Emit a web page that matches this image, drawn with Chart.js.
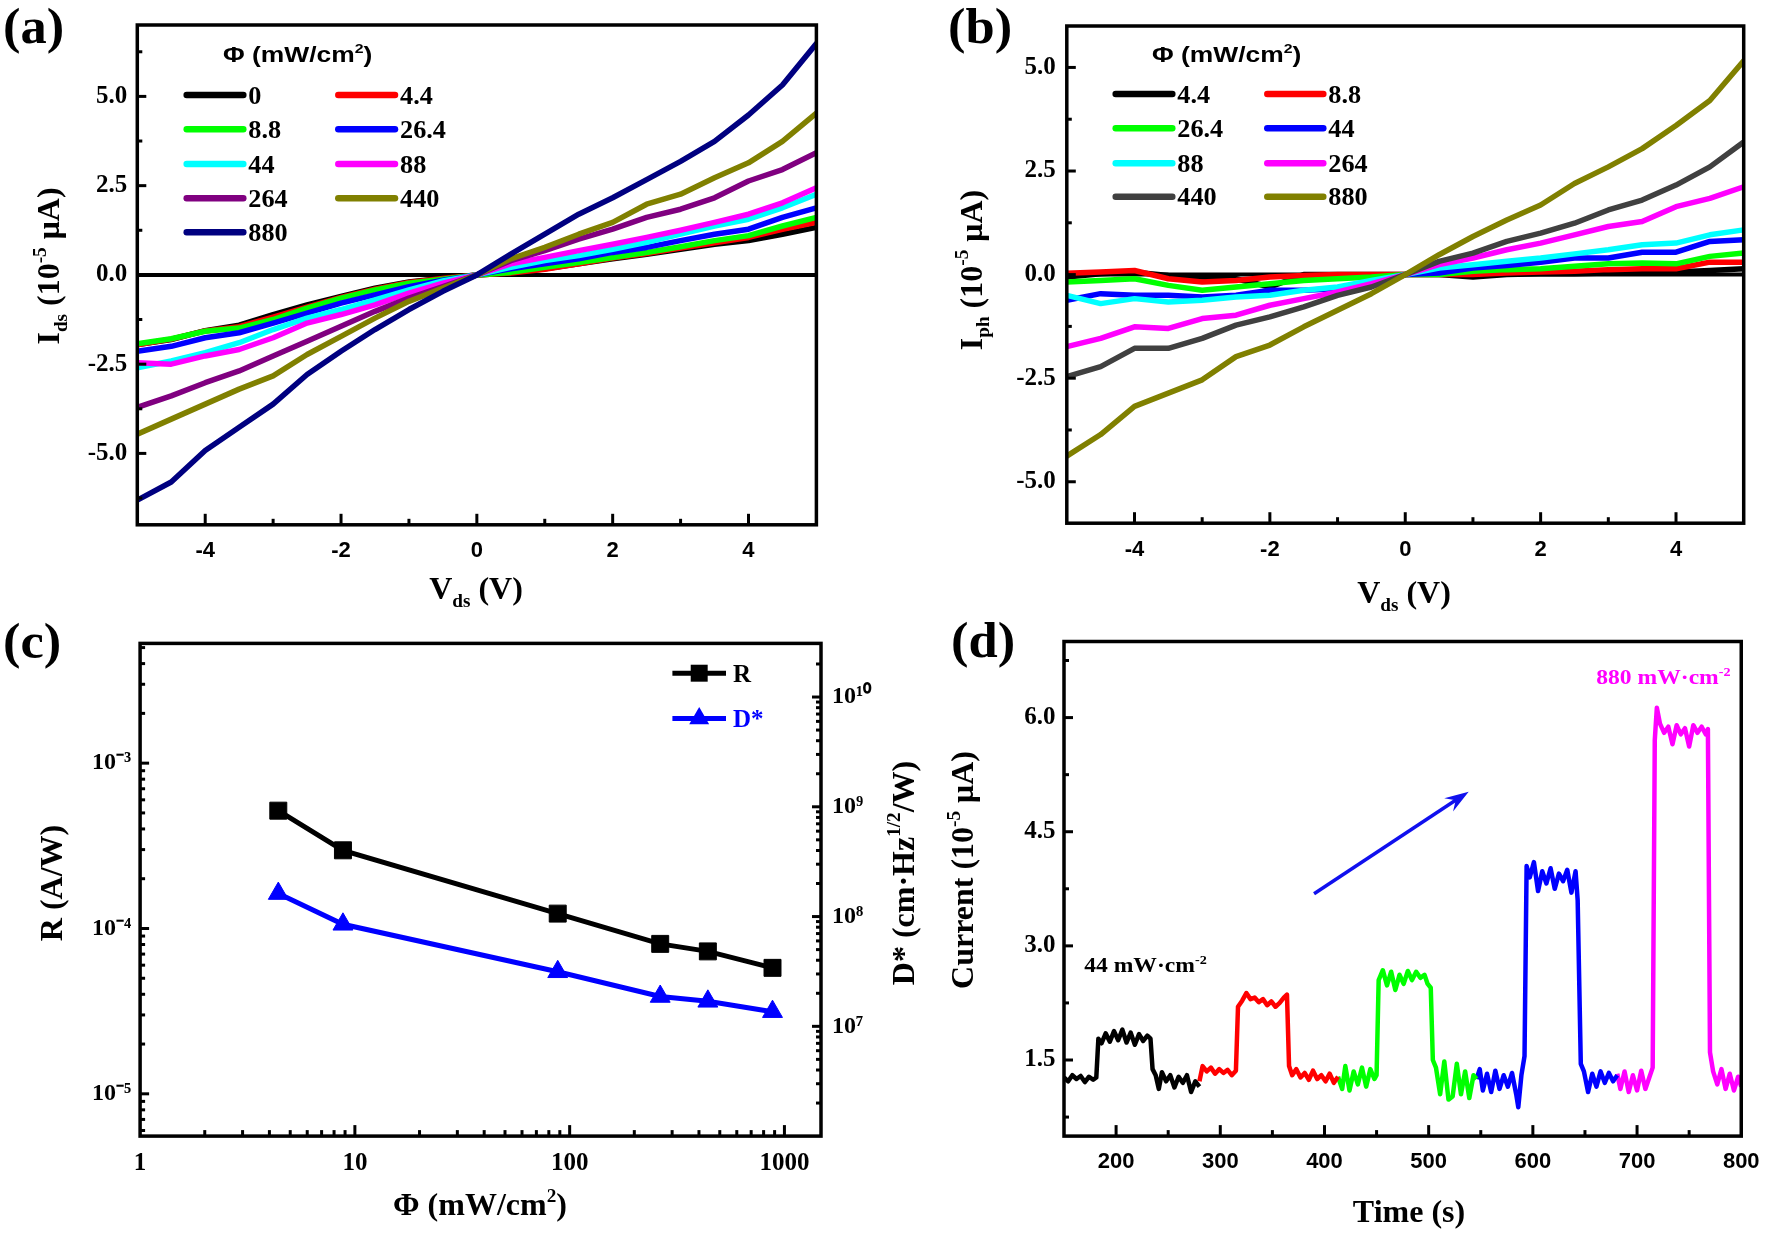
<!DOCTYPE html>
<html><head><meta charset="utf-8">
<script src="https://cdn.jsdelivr.net/npm/chart.js@4.4.1/dist/chart.umd.min.js"></script>
<style>
html,body{margin:0;padding:0;background:#fff;}
#wrap{position:relative;width:1772px;height:1236px;overflow:hidden;background:#fff;}
canvas{position:absolute;}
</style></head><body>
<div id="wrap">
<canvas id="ca" width="886" height="618" style="left:0;top:0"></canvas>
<canvas id="cb" width="886" height="618" style="left:886px;top:0"></canvas>
<canvas id="cc" width="940" height="618" style="left:0;top:618px"></canvas>
<canvas id="cd" width="886" height="618" style="left:886px;top:618px"></canvas>
</div>
<script>
// ---------------- DATA ----------------
// (a) I-V curves, Ids (10^-5 uA) vs Vds (V)
const vds = [-5,-4.5,-4,-3.5,-3,-2.5,-2,-1.5,-1,-0.5,0,0.5,1,1.5,2,2.5,3,3.5,4,4.5,5];
const phiA = ['0','4.4','8.8','26.4','44','88','264','440','880'];
const idsA_0    = [-1.95,-1.81,-1.56,-1.41,-1.11,-0.84,-0.60,-0.37,-0.20,-0.09,0,0.05,0.17,0.31,0.45,0.58,0.72,0.86,0.96,1.14,1.33];
const idsA_4_4  = [-1.96,-1.80,-1.57,-1.45,-1.18,-0.90,-0.63,-0.40,-0.21,-0.10,0,0.05,0.16,0.31,0.47,0.60,0.75,0.90,1.05,1.28,1.47];
const idsA_8_8  = [-1.93,-1.79,-1.58,-1.49,-1.25,-0.93,-0.65,-0.42,-0.23,-0.12,0,0.07,0.21,0.35,0.49,0.63,0.79,0.96,1.10,1.37,1.61];
const idsA_26_4 = [-2.14,-2.00,-1.76,-1.62,-1.35,-1.07,-0.79,-0.56,-0.33,-0.15,0,0.17,0.31,0.45,0.63,0.77,0.96,1.14,1.28,1.61,1.88];
const idsA_44   = [-2.60,-2.41,-2.18,-1.90,-1.53,-1.21,-0.97,-0.70,-0.42,-0.17,0,0.21,0.40,0.54,0.72,0.91,1.14,1.37,1.56,1.88,2.26];
const idsA_88   = [-2.46,-2.50,-2.27,-2.09,-1.76,-1.35,-1.11,-0.84,-0.51,-0.23,0,0.31,0.49,0.68,0.86,1.05,1.25,1.47,1.70,2.02,2.44];
const idsA_264  = [-3.71,-3.39,-3.02,-2.69,-2.27,-1.86,-1.44,-1.02,-0.65,-0.33,0,0.40,0.68,1.00,1.28,1.61,1.84,2.16,2.63,2.95,3.42];
const idsA_440  = [-4.46,-4.04,-3.62,-3.20,-2.83,-2.23,-1.72,-1.21,-0.74,-0.37,0,0.45,0.77,1.14,1.47,1.98,2.26,2.72,3.14,3.74,4.53];
const idsA_880  = [-6.31,-5.80,-4.92,-4.27,-3.62,-2.79,-2.14,-1.53,-0.97,-0.46,0,0.58,1.14,1.70,2.16,2.67,3.18,3.74,4.48,5.32,6.48];

// (b) photocurrent Iph (10^-5 uA) vs Vds (V)
const phiB = ['4.4','8.8','26.4','44','88','264','440','880'];
const iphB_4_4  = [-0.06,0.02,0.06,-0.02,-0.06,-0.10,-0.30,0,0,0,0,0,-0.06,0,0.02,0.02,0.04,0.06,0.06,0.10,0.14];
const iphB_8_8  = [0.03,0.06,0.10,-0.10,-0.18,-0.14,-0.06,-0.02,0,0,0,0,0,0.04,0.06,0.08,0.12,0.14,0.14,0.30,0.30];
const iphB_26_4 = [-0.18,-0.14,-0.10,-0.26,-0.38,-0.30,-0.22,-0.14,-0.10,-0.06,0,0,0.08,0.12,0.14,0.20,0.26,0.28,0.26,0.44,0.52];
const iphB_44   = [-0.62,-0.46,-0.50,-0.50,-0.54,-0.50,-0.38,-0.38,-0.34,-0.18,0,0.04,0.16,0.22,0.30,0.40,0.40,0.54,0.54,0.80,0.84];
const iphB_88   = [-0.50,-0.70,-0.58,-0.66,-0.62,-0.54,-0.50,-0.38,-0.30,-0.14,0,0.16,0.24,0.32,0.40,0.50,0.60,0.72,0.76,0.96,1.08];
const iphB_264  = [-1.74,-1.54,-1.26,-1.30,-1.06,-0.98,-0.74,-0.58,-0.42,-0.22,0,0.24,0.40,0.60,0.76,0.96,1.16,1.28,1.64,1.84,2.12];
const iphB_440  = [-2.46,-2.22,-1.78,-1.78,-1.54,-1.22,-1.02,-0.78,-0.50,-0.30,0,0.32,0.52,0.80,1.00,1.24,1.56,1.80,2.16,2.60,3.20];
const iphB_880  = [-4.38,-3.86,-3.18,-2.86,-2.54,-1.98,-1.70,-1.26,-0.86,-0.46,0,0.48,0.92,1.32,1.68,2.20,2.60,3.04,3.60,4.20,5.16];

// (c) responsivity R (A/W) and detectivity D* vs light intensity
const phiC  = [4.4, 8.8, 88, 264, 440, 880];
const respR = [5.16e-4, 2.97e-4, 1.23e-4, 8.07e-5, 7.27e-5, 5.78e-5];
const detD  = [1.62e8, 8.5e7, 3.14e7, 1.87e7, 1.69e7, 1.36e7];

// (d) time response: Current (10^-5 uA) vs Time (s)
const tBlack = [150,154,158,162,166,170,174,178,181,183,186,190,194,198,202,206,210,214,218,222,226,230,233,235,238,241,244,248,252,256,260,264,268,272,276,280];
const iBlack = [1.27,1.22,1.30,1.25,1.29,1.21,1.28,1.24,1.27,1.78,1.72,1.85,1.74,1.88,1.76,1.90,1.73,1.86,1.70,1.84,1.75,1.82,1.78,1.38,1.30,1.12,1.34,1.22,1.30,1.14,1.28,1.20,1.30,1.08,1.22,1.15];
const tRed = [280,283,287,291,295,299,303,307,311,315,317,321,325,329,333,337,341,345,349,353,357,361,364,366,369,373,377,381,385,389,393,397,401,405,409,413];
const iRed = [1.22,1.42,1.35,1.40,1.32,1.38,1.33,1.37,1.30,1.36,2.20,2.28,2.38,2.30,2.32,2.26,2.30,2.22,2.27,2.20,2.25,2.32,2.36,1.42,1.30,1.38,1.27,1.33,1.24,1.36,1.25,1.30,1.22,1.32,1.20,1.28];
const tGreen = [413,417,420,424,428,432,436,440,444,448,450,452,456,460,464,468,472,476,480,484,488,492,496,499,502,504,507,511,515,519,523,527,531,535,539,543,546];
const iGreen = [1.28,1.12,1.42,1.10,1.35,1.18,1.40,1.15,1.38,1.25,1.30,2.55,2.68,2.48,2.66,2.42,2.62,2.50,2.67,2.55,2.66,2.58,2.62,2.50,2.45,1.50,1.40,1.05,1.48,0.98,1.02,1.45,1.05,1.35,1.00,1.30,1.25];
const tBlue = [546,549,552,556,560,564,568,572,576,580,584,586,589,592,594,597,601,605,609,613,617,621,625,629,633,637,641,643,646,649,653,657,661,665,669,673,677,681];
const iBlue = [1.25,1.38,1.10,1.32,1.08,1.36,1.12,1.30,1.15,1.33,1.05,0.88,1.30,1.55,4.05,3.90,4.10,3.72,3.98,3.82,4.02,3.75,3.95,3.85,4.00,3.70,3.98,3.60,1.45,1.35,1.08,1.32,1.15,1.35,1.20,1.33,1.22,1.30];
const tMagenta = [681,684,688,692,696,700,704,708,712,715,717,719,722,726,730,734,738,742,746,750,754,758,762,766,768,770,773,777,781,785,789,793,797,800];
const iMagenta = [1.32,1.12,1.35,1.08,1.30,1.10,1.36,1.12,1.28,1.40,5.70,6.13,5.92,5.80,5.88,5.65,5.90,5.78,5.86,5.62,5.90,5.80,5.88,5.78,5.85,1.60,1.35,1.18,1.38,1.12,1.32,1.10,1.28,1.15];
const labelLow = ['44 mW·cm', '-2'];
const labelHigh = ['880 mW·cm', '-2'];
const arrowD = [[390, 3.685], [538.4, 5.027]];

// ---------------- STYLE ----------------
const SERIF = "'Liberation Serif','Times New Roman',Times,serif";
const SANS = "'Liberation Sans',Arial,Helvetica,sans-serif";
const colorsA = ['#000000','#ff0000','#00ff00','#0000ff','#00ffff','#ff00ff','#800080','#808000','#000080'];
const colorsB = ['#000000','#ff0000','#00ff00','#0000ff','#00ffff','#ff00ff','#404040','#808000'];
const colorsD = ['#000000','#ff0000','#00ff00','#0000ff','#ff00ff'];

function fontStr(size, fam){ return 'bold ' + size + 'px ' + fam; }

function drawRich(ctx, o){
  ctx.save();
  ctx.translate(o.x, o.y);
  if (o.rot) ctx.rotate(o.rot);
  if (o.sx) ctx.scale(o.sx, 1);
  const pieces = o.segs.map(s => {
    const sz = (s.sub || s.sup) ? o.size * 0.6 : o.size;
    ctx.font = fontStr(sz, o.family);
    return {s, sz, w: ctx.measureText(s.t).width};
  });
  const total = pieces.reduce((a,p) => a + p.w, 0);
  let x = o.align === 'center' ? -total/2 : (o.align === 'right' ? -total : 0);
  ctx.textAlign = 'left'; ctx.textBaseline = 'alphabetic';
  for (const p of pieces){
    ctx.font = fontStr(p.sz, o.family);
    ctx.fillStyle = p.s.color || o.color || '#000';
    const dy = p.s.sub ? o.size * 0.24 : (p.s.sup ? -o.size * 0.42 : 0);
    ctx.fillText(p.s.t, x, dy);
    x += p.w;
  }
  ctx.restore();
}

function isLabel(l){ return l !== '' && l !== undefined && l !== null; }

function makeDecor(cfg){
  return {
    id: 'decor' + cfg.key,
    beforeDatasetsDraw(chart){
      if (!cfg.zeroLine) return;
      const a = chart.chartArea, ctx = chart.ctx, py = chart.scales.y.getPixelForValue(0);
      ctx.save(); ctx.strokeStyle = '#000'; ctx.lineWidth = 4;
      ctx.beginPath(); ctx.moveTo(a.left, py); ctx.lineTo(a.right, py); ctx.stroke(); ctx.restore();
    },
    afterDraw(chart){
      const ctx = chart.ctx, a = chart.chartArea;
      ctx.save();
      ctx.strokeStyle = '#000'; ctx.lineCap = 'butt'; ctx.lineWidth = 3;
      for (const t of cfg.tickAxes){
        const sc = chart.scales[t.id];
        for (const tk of sc.ticks){
          const major = isLabel(tk.label) || (t.majorAt && t.majorAt(tk.value));
          const p = sc.getPixelForValue(tk.value);
          if (t.side === 'bottom'){
            if (p < a.left + 3 || p > a.right - 3) continue;
            const L = major ? 11 : 6;
            ctx.beginPath(); ctx.moveTo(p, a.bottom); ctx.lineTo(p, a.bottom - L); ctx.stroke();
          } else {
            if (p < a.top + 3 || p > a.bottom - 3) continue;
            const L = major ? 9 : 5;
            const x0 = t.side === 'left' ? a.left : a.right;
            const dir = t.side === 'left' ? 1 : -1;
            ctx.beginPath(); ctx.moveTo(x0, p); ctx.lineTo(x0 + dir * L, p); ctx.stroke();
          }
        }
      }
      ctx.lineWidth = 3.5;
      ctx.strokeRect(a.left, a.top, a.right - a.left, a.bottom - a.top);
      ctx.restore();

      if (cfg.legend){
        const L = cfg.legend;
        drawRich(ctx, Object.assign({family: SANS, size: 22, sx: 1.2}, L.title));
        chart.data.datasets.forEach((ds, i) => {
          const r = Math.floor(i / 2), c = i % 2;
          const y = L.rows[r], col = L.cols[c];
          ctx.save(); ctx.strokeStyle = ds.borderColor; ctx.lineWidth = 6.5; ctx.lineCap = 'round';
          ctx.beginPath(); ctx.moveTo(col[0], y); ctx.lineTo(col[1], y); ctx.stroke(); ctx.restore();
          drawRich(ctx, {segs: [{t: ds.label}], x: col[2], y: y + 8.5, size: 25, family: SERIF, sx: 1.05});
        });
      }
      if (cfg.markLegend){
        cfg.markLegend.forEach((m, i) => {
          const ds = chart.data.datasets[i];
          ctx.save(); ctx.strokeStyle = ds.borderColor; ctx.fillStyle = ds.borderColor; ctx.lineWidth = 5;
          ctx.beginPath(); ctx.moveTo(m.x0, m.y); ctx.lineTo(m.x1, m.y); ctx.stroke();
          const cx = (m.x0 + m.x1) / 2, r = ds.pointRadius;
          ctx.beginPath();
          if (ds.pointStyle === 'rect'){ const s = r * Math.SQRT1_2; ctx.rect(cx - s, m.y - s, 2*s, 2*s); }
          else { ctx.moveTo(cx, m.y - r); ctx.lineTo(cx + r*0.866, m.y + r/2); ctx.lineTo(cx - r*0.866, m.y + r/2); ctx.closePath(); }
          ctx.fill(); ctx.restore();
          drawRich(ctx, {segs: [{t: ds.label}], x: m.tx, y: m.y + 8.5, size: 25, family: SERIF, color: ds.borderColor});
        });
      }
      if (cfg.arrow){
        const xs = chart.scales.x, ys = chart.scales.y;
        const x0 = xs.getPixelForValue(cfg.arrow[0][0]), y0 = ys.getPixelForValue(cfg.arrow[0][1]);
        const x1 = xs.getPixelForValue(cfg.arrow[1][0]), y1 = ys.getPixelForValue(cfg.arrow[1][1]);
        const ang = Math.atan2(y1 - y0, x1 - x0), hl = 24, hw = 8;
        const ca = Math.cos(ang), sa = Math.sin(ang);
        ctx.save(); ctx.strokeStyle = '#1010ee'; ctx.fillStyle = '#1010ee'; ctx.lineWidth = 3.5;
        ctx.beginPath(); ctx.moveTo(x0, y0); ctx.lineTo(x1 - hl*0.6*ca, y1 - hl*0.6*sa); ctx.stroke();
        ctx.beginPath(); ctx.moveTo(x1, y1);
        ctx.lineTo(x1 - hl*ca - hw*sa, y1 - hl*sa + hw*ca);
        ctx.lineTo(x1 - hl*0.65*ca, y1 - hl*0.65*sa);
        ctx.lineTo(x1 - hl*ca + hw*sa, y1 - hl*sa - hw*ca);
        ctx.closePath(); ctx.fill(); ctx.restore();
      }
      for (const tx of cfg.texts){
        const o = Object.assign({}, tx);
        if (tx.data){ o.x = chart.scales.x.getPixelForValue(tx.data[0]); o.y = chart.scales.y.getPixelForValue(tx.data[1]); }
        drawRich(ctx, o);
      }
    }
  };
}

const supMap = {'-':'⁻','0':'⁰','1':'¹','2':'²','3':'³','4':'⁴','5':'⁵','6':'⁶','7':'⁷','8':'⁸','9':'⁹'};
function supStr(n){ return String(n).split('').map(c => supMap[c] || c).join(''); }
function isPow10(v){ const l = Math.log10(v); return Math.abs(l - Math.round(l)) < 1e-9; }
function logTicks(min, max){
  const out = [];
  for (let e = Math.floor(Math.log10(min)); e <= Math.ceil(Math.log10(max)); e++)
    for (let m = 1; m <= 9; m++){ const v = m * Math.pow(10, e); if (v >= min*0.9999 && v <= max*1.0001) out.push({value: v}); }
  return out;
}
function near(v, step){ return Math.abs(v/step - Math.round(v/step)) < 1e-6; }

function linAxis(o){
  return {
    type: 'linear', position: o.position, min: o.min, max: o.max,
    afterFit: s => { if (o.w !== undefined) s.width = o.w; if (o.h !== undefined) s.height = o.h; },
    grid: {display: false, drawTicks: false}, border: {display: false},
    ticks: {stepSize: o.step, autoSkip: false, maxRotation: 0, includeBounds: false, padding: o.pad, color: '#000',
      font: {family: o.fam, size: o.size, weight: 'bold'}, callback: o.cb}
  };
}
function logAxis(o){
  return {
    type: 'logarithmic', position: o.position, min: o.min, max: o.max,
    afterFit: s => { if (o.w !== undefined) s.width = o.w; if (o.h !== undefined) s.height = o.h; },
    afterBuildTicks: s => { s.ticks = logTicks(o.min, o.max); },
    grid: {display: false, drawTicks: false}, border: {display: false},
    ticks: {autoSkip: false, maxRotation: 0, padding: o.pad, color: '#000',
      font: {family: SERIF, size: o.size, weight: 'bold'}, callback: o.cb}
  };
}
const baseOpts = (pad) => ({
  responsive: false, animation: false, events: [],
  layout: {padding: pad},
  plugins: {legend: {display: false}, tooltip: {enabled: false}},
  elements: {point: {radius: 0}, line: {tension: 0}}
});
function ivDatasets(names, series, colors){
  return names.map((n, i) => ({
    label: n, data: vds.map((v, k) => ({x: v, y: series[i][k]})),
    borderColor: colors[i], backgroundColor: colors[i], borderWidth: 5.5,
    pointRadius: 0, order: -i, borderCapStyle: 'round', borderJoinStyle: 'round'
  }));
}
const xTickInt = v => (near(v, 2) ? String(Math.round(v)) : '');
const yTick25 = v => (near(v, 2.5) ? v.toFixed(1) : '');

// ---------------- (a) ----------------
new Chart(document.getElementById('ca'), {
  type: 'line',
  data: {datasets: ivDatasets(phiA, [idsA_0, idsA_4_4, idsA_8_8, idsA_26_4, idsA_44, idsA_88, idsA_264, idsA_440, idsA_880], colorsA)},
  options: Object.assign(baseOpts({left: 0, right: 69.6, top: 19.7, bottom: 0}), {
    scales: {
      x: linAxis({position: 'bottom', min: -5, max: 5, step: 1, h: 93.2, pad: 13, fam: SANS, size: 22, cb: xTickInt}),
      y: linAxis({position: 'left', min: -7, max: 7, step: 1.25, w: 137.3, pad: 10, fam: SERIF, size: 25, cb: yTick25})
    }
  }),
  plugins: [makeDecor({
    key: 'a', zeroLine: true,
    tickAxes: [{id: 'x', side: 'bottom'}, {id: 'y', side: 'left'}],
    legend: {
      title: {segs: [{t: 'Φ (mW/cm'}, {t: '2', sup: 1}, {t: ')'}], x: 223, y: 62},
      rows: [95, 129.3, 164, 198.3, 232.3],
      cols: [[186.7, 243.3, 248.3], [338.3, 395, 400]]
    },
    texts: [
      {segs: [{t: '(a)'}], x: 3, y: 43, size: 50, family: SERIF, sx: 1.05},
      {segs: [{t: 'I'}, {t: 'ds', sub: 1}, {t: ' (10'}, {t: '-5', sup: 1}, {t: ' μA)'}], x: 59, y: 266, rot: -Math.PI/2, size: 32, family: SERIF, align: 'center'},
      {segs: [{t: 'V'}, {t: 'ds', sub: 1}, {t: ' (V)'}], x: 476, y: 599, size: 32, family: SERIF, align: 'center'}
    ]
  })]
});

// ---------------- (b) ----------------
new Chart(document.getElementById('cb'), {
  type: 'line',
  data: {datasets: ivDatasets(phiB, [iphB_4_4, iphB_8_8, iphB_26_4, iphB_44, iphB_88, iphB_264, iphB_440, iphB_880], colorsB)},
  options: Object.assign(baseOpts({left: 0, right: 28.3, top: 20.5, bottom: 0}), {
    scales: {
      x: linAxis({position: 'bottom', min: -5, max: 5, step: 1, h: 94.8, pad: 14, fam: SANS, size: 22, cb: xTickInt}),
      y: linAxis({position: 'left', min: -6, max: 6, step: 1.25, w: 180.8, pad: 11, fam: SERIF, size: 25, cb: yTick25})
    }
  }),
  plugins: [makeDecor({
    key: 'b', zeroLine: true,
    tickAxes: [{id: 'x', side: 'bottom'}, {id: 'y', side: 'left'}],
    legend: {
      title: {segs: [{t: 'Φ (mW/cm'}, {t: '2', sup: 1}, {t: ')'}], x: 266, y: 62},
      rows: [94, 128.3, 163.3, 196.7],
      cols: [[229.7, 286.3, 291.3], [381.3, 437.3, 442.3]]
    },
    texts: [
      {segs: [{t: '(b)'}], x: 62, y: 43, size: 50, family: SERIF, sx: 1.05},
      {segs: [{t: 'I'}, {t: 'ph', sub: 1}, {t: ' (10'}, {t: '-5', sup: 1}, {t: ' μA)'}], x: 95.5, y: 270, rot: -Math.PI/2, size: 32, family: SERIF, align: 'center'},
      {segs: [{t: 'V'}, {t: 'ds', sub: 1}, {t: ' (V)'}], x: 518, y: 603, size: 32, family: SERIF, align: 'center'}
    ]
  })]
});

// ---------------- (c) ----------------
const pow10Label = v => (isPow10(v) ? '10' + supStr(Math.round(Math.log10(v))) : '');
new Chart(document.getElementById('cc'), {
  type: 'line',
  data: {datasets: [
    {label: 'R', yAxisID: 'y', data: phiC.map((x, i) => ({x, y: respR[i]})), borderColor: '#000000', backgroundColor: '#000000',
     borderWidth: 5, pointStyle: 'rect', pointRadius: 12, pointBorderWidth: 1, pointBorderColor: '#000000'},
    {label: 'D*', yAxisID: 'y2', data: phiC.map((x, i) => ({x, y: detD[i]})), borderColor: '#0000ff', backgroundColor: '#0000ff',
     borderWidth: 5, pointStyle: 'triangle', pointRadius: 11.5, pointBorderWidth: 1, pointBorderColor: '#0000ff'}
  ]},
  options: Object.assign(baseOpts({left: 0, right: 0, top: 13.8, bottom: 0}), {
    scales: {
      x: logAxis({position: 'bottom', min: 1, max: 1480, h: 99.9, pad: 12.6, size: 25, cb: v => (isPow10(v) ? String(Math.round(v)) : '')}),
      y: logAxis({position: 'left', min: 5.55e-6, max: 5.3e-3, w: 140.1, pad: 9, size: 24, cb: pow10Label}),
      y2: logAxis({position: 'right', min: 1e6, max: 3.08e10, w: 119, pad: 11, size: 24, cb: v => (v > 1.5e6 ? pow10Label(v) : '')})
    }
  }),
  plugins: [makeDecor({
    key: 'c',
    tickAxes: [{id: 'x', side: 'bottom'}, {id: 'y', side: 'left'}, {id: 'y2', side: 'right', majorAt: isPow10}],
    markLegend: [{x0: 672.4, x1: 726, y: 55.2, tx: 733}, {x0: 672.4, x1: 726, y: 100.5, tx: 733}],
    texts: [
      {segs: [{t: '(c)'}], x: 3, y: 40, size: 50, family: SERIF, sx: 1.05},
      {segs: [{t: 'R (A/W)'}], x: 61.5, y: 265, rot: -Math.PI/2, size: 32, family: SERIF, align: 'center'},
      {segs: [{t: 'D* (cm·Hz'}, {t: '1/2', sup: 1}, {t: '/W)'}], x: 913.5, y: 255, rot: -Math.PI/2, size: 32, family: SERIF, align: 'center'},
      {segs: [{t: 'Φ (mW/cm'}, {t: '2', sup: 1}, {t: ')'}], x: 480, y: 597, size: 32, family: SERIF, align: 'center'}
    ]
  })]
});

// ---------------- (d) ----------------
const segT = [tBlack, tRed, tGreen, tBlue, tMagenta];
const segI = [iBlack, iRed, iGreen, iBlue, iMagenta];
new Chart(document.getElementById('cd'), {
  type: 'line',
  data: {datasets: segT.map((ts, k) => ({
    label: 'seg' + k, data: ts.map((t, j) => ({x: t, y: segI[k][j]})),
    borderColor: colorsD[k], borderWidth: 4.5, pointRadius: 0, borderJoinStyle: 'round'
  }))},
  options: Object.assign(baseOpts({left: 0, right: 27.2, top: 11.8, bottom: 0}), {
    scales: {
      x: linAxis({position: 'bottom', min: 150, max: 800, step: 50, h: 99.9, pad: 12.4, fam: SANS, size: 22,
        cb: v => (near(v, 100) ? String(Math.round(v)) : '')}),
      y: linAxis({position: 'left', min: 0.5, max: 7, step: 0.75, w: 178, pad: 8.5, fam: SERIF, size: 25,
        cb: v => (near(v, 1.5) ? v.toFixed(1) : '')})
    }
  }),
  plugins: [makeDecor({
    key: 'd',
    tickAxes: [{id: 'x', side: 'bottom'}, {id: 'y', side: 'left'}],
    arrow: arrowD,
    texts: [
      {segs: [{t: '(d)'}], x: 65, y: 39, size: 50, family: SERIF, sx: 1.05},
      {segs: [{t: 'Current (10'}, {t: '-5', sup: 1}, {t: ' μA)'}], x: 87, y: 252, rot: -Math.PI/2, size: 32, family: SERIF, align: 'center'},
      {segs: [{t: 'Time (s)'}], x: 523, y: 604, size: 32, family: SERIF, align: 'center'},
      {segs: [{t: labelLow[0]}, {t: labelLow[1], sup: 1}], data: [169.4, 2.654], size: 20, family: SERIF, sx: 1.18, color: '#000000'},
      {segs: [{t: labelHigh[0]}, {t: labelHigh[1], sup: 1}], data: [660.8, 6.44], size: 20, family: SERIF, sx: 1.18, color: '#ff00ff'}
    ]
  })]
});
</script>
</body></html>
